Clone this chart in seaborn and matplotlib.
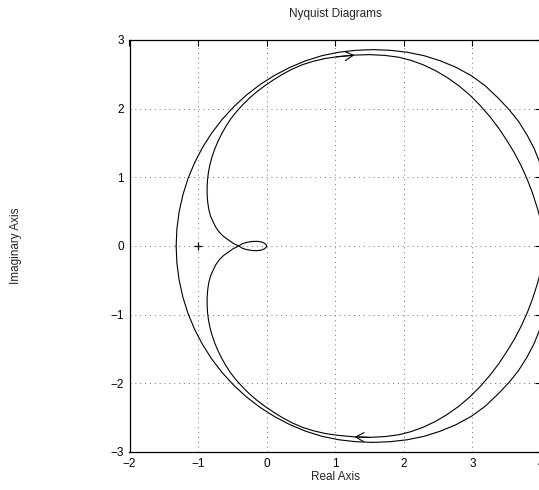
import matplotlib
matplotlib.use("Agg")
import matplotlib.pyplot as plt
import numpy as np
import pandas as pd
import seaborn as sns

# ---- data (Nyquist curve, positive-frequency branch pieces) ----
# outer arc (upper half), from the real-axis crossing at the left round to the right crossing
outer_re = [-1.320, -1.309, -1.276, -1.222, -1.147, -1.051, -0.935, -0.801, -0.648, -0.479,
            -0.295, -0.096, 0.115, 0.337, 0.568, 0.807, 1.052, 1.300, 1.550, 1.800,
            2.048, 2.293, 2.532, 2.763, 2.985, 3.185, 3.380, 3.540, 3.675, 3.795,
            3.900, 3.980, 4.040, 4.080, 4.100, 4.100, 4.080]
outer_im = [0.000, 0.250, 0.498, 0.743, 0.982, 1.213, 1.435, 1.646, 1.845, 2.029,
            2.198, 2.351, 2.485, 2.601, 2.697, 2.772, 2.822, 2.850, 2.860, 2.850,
            2.822, 2.772, 2.697, 2.601, 2.480, 2.335, 2.150, 1.980, 1.810, 1.620,
            1.420, 1.220, 1.000, 0.760, 0.500, 0.250, 0.000]
# inner arc (upper half), from the loop crossing near -0.41 round to the right crossing
inner_re = [-0.410, -0.490, -0.560, -0.630, -0.690, -0.740, -0.780, -0.820, -0.845, -0.860,
            -0.868, -0.868, -0.862, -0.848, -0.826, -0.796, -0.758, -0.712, -0.658, -0.596,
            -0.525, -0.445, -0.355, -0.255, -0.145, -0.025, 0.100, 0.230, 0.370, 0.520,
            0.680, 0.850, 1.020, 1.280, 1.500, 1.720, 1.920, 2.100, 2.280, 2.460,
            2.630, 2.800, 2.960, 3.110, 3.250, 3.380, 3.500, 3.610, 3.710, 3.800,
            3.880, 3.950, 4.010, 4.050, 4.070]
inner_im = [0.000, 0.040, 0.090, 0.140, 0.200, 0.270, 0.350, 0.440, 0.540, 0.640,
            0.750, 0.860, 0.970, 1.080, 1.190, 1.300, 1.410, 1.520, 1.630, 1.740,
            1.850, 1.950, 2.050, 2.150, 2.245, 2.335, 2.420, 2.500, 2.575, 2.640,
            2.690, 2.730, 2.755, 2.780, 2.787, 2.776, 2.750, 2.705, 2.640, 2.555,
            2.455, 2.335, 2.200, 2.050, 1.890, 1.720, 1.540, 1.360, 1.170, 0.970,
            0.760, 0.540, 0.320, 0.130, 0.000]
# small loop (upper arc), from the loop crossing to the origin
loop_re = [-0.410, -0.350, -0.280, -0.210, -0.140, -0.080, -0.035, -0.008, 0.000]
loop_im = [0.000, 0.035, 0.055, 0.066, 0.068, 0.060, 0.042, 0.020, 0.000]
# critical point
crit_re = [-1.0]
crit_im = [0.0]

x_ticks = [-2, -1, 0, 1, 2, 3, 4]
y_ticks = [-3, -2, -1, 0, 1, 2, 3]
title = "Nyquist Diagrams"
x_label = "Real Axis"
y_label = "Imaginary Axis"
arrow_at = 33  # index into the inner arc where the direction arrows sit

# ---- build branches ----
pos_re = outer_re + inner_re[::-1][1:] + loop_re[1:]
pos_im = outer_im + [-v for v in inner_im[::-1]][1:] + loop_im[1:]
neg_re = pos_re[:]
neg_im = [-v for v in pos_im]

df = pd.concat([
    pd.DataFrame({"re": pos_re, "im": pos_im, "branch": "pos"}),
    pd.DataFrame({"re": neg_re, "im": neg_im, "branch": "neg"}),
])

sns.set_theme(style="white")
plt.rcParams["font.family"] = ["Liberation Sans", "DejaVu Sans"]

W, H = 539, 490
fig = plt.figure(figsize=(W / 100, H / 100), dpi=100)
ax_l, ax_r, ax_t, ax_b = 129.5, 541.0, 40.0, 452.0
ax = fig.add_axes([ax_l / W, 1 - ax_b / H, (ax_r - ax_l) / W, (ax_b - ax_t) / H])

sns.lineplot(data=df, x="re", y="im", units="branch", estimator=None, sort=False,
             color="black", linewidth=0.8, ax=ax)
sns.scatterplot(x=crit_re, y=crit_im, marker="+", s=28, color="black", linewidth=0.9, ax=ax)

arrow_kw = dict(arrowstyle="->,head_length=0.6,head_width=0.33", color="black",
                lw=0.8, shrinkA=0, shrinkB=0, mutation_scale=10)
ax.annotate("", xy=(inner_re[arrow_at], inner_im[arrow_at]),
            xytext=(inner_re[arrow_at - 1], inner_im[arrow_at - 1]), arrowprops=arrow_kw)
ax.annotate("", xy=(inner_re[arrow_at], -inner_im[arrow_at]),
            xytext=(inner_re[arrow_at + 1], -inner_im[arrow_at + 1]), arrowprops=arrow_kw)

ax.set_xlim(x_ticks[0], x_ticks[-1])
ax.set_ylim(y_ticks[0], y_ticks[-1])
ax.set_xticks(x_ticks)
ax.set_yticks(y_ticks)
ax.grid(True, color="0.45", linestyle=(0, (1, 4)), linewidth=0.7)
ax.tick_params(direction="in", length=4, width=0.8, top=True, right=True,
               labelsize=8.5, pad=4, colors="black")
for s in ax.spines.values():
    s.set_color("black")
    s.set_linewidth(0.9)
    s.set_visible(True)

ax.set_title(title, fontsize=8.5, y=(ax_b - 14) / (ax_b - ax_t), va="center", pad=0)
ax.set_xlabel(x_label, fontsize=8.5)
ax.xaxis.label.set_va("center")
ax.xaxis.set_label_coords(0.5, (ax_b - 477) / (ax_b - ax_t))
ax.set_ylabel(y_label, fontsize=8.5)
ax.yaxis.label.set_va("center")
ax.yaxis.set_label_coords((16 - ax_l) / (ax_r - ax_l), 0.5)

fig.savefig("out.png", dpi=100)
